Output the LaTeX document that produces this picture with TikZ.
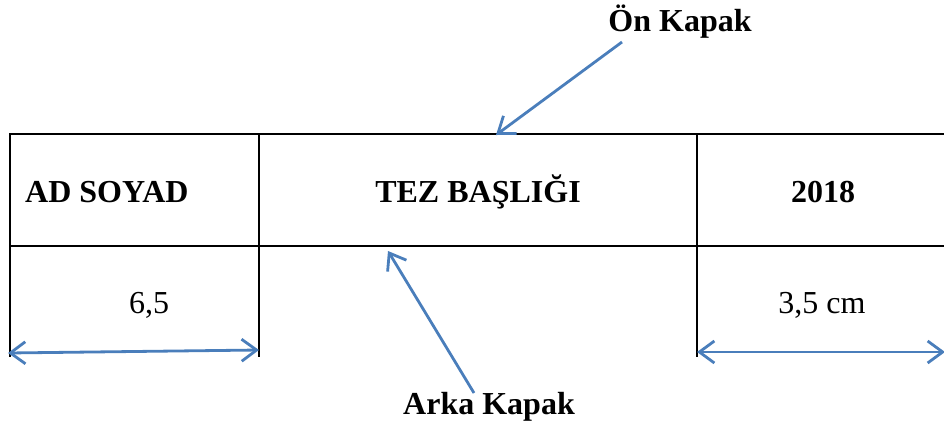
\documentclass[tikz,border=0pt]{standalone}
\usepackage{fontspec}
\setmainfont{Liberation Serif}
\usetikzlibrary{arrows.meta}
\definecolor{arrowblue}{HTML}{4A7EBB}
\tikzset{
  grid/.style={line width=2.7pt, black},
  pointer/.style={line width=2.8pt, arrowblue, -{Straight Barb[length=15pt,width=22pt,line width=2.8pt]}},
  dimline/.style={line width=2.8pt, arrowblue, {Straight Barb[length=15pt,width=22pt,line width=2.8pt]}-{Straight Barb[length=15pt,width=22pt,line width=2.8pt]}},
  boldlabel/.style={font=\fontsize{32}{38}\selectfont\bfseries, inner sep=0pt},
  plainlabel/.style={font=\fontsize{32}{38}\selectfont, inner sep=0pt}
}
\begin{document}
\begin{tikzpicture}[x=1pt,y=-1pt]
\useasboundingbox (0,0) rectangle (944,426);
% table lines
\coordinate (tl) at (10,134);
\coordinate (tr) at (944,134);
\coordinate (ml) at (10,246);
\coordinate (mr) at (944,246);
\draw[grid] (tl) -- (tr);
\draw[grid] (ml) -- (mr);
\draw[grid] (10,133) -- (10,357);
\draw[grid] (259,133) -- (259,357);
\draw[grid] (697,133) -- (697,357);
% texts
\node[boldlabel, anchor=west] (ad) at (25,192) {AD SOYAD};
\node[boldlabel] (tez) at (478,192) {TEZ BAŞLIĞI};
\node[boldlabel] (yil) at (823,192) {2018};
\node[plainlabel] (w1) at (149,305) {6,5};
\node[plainlabel] (w2) at (822,305) {3,5 cm};
\node[boldlabel] (on) at (680,22) {Ön Kapak};
\node[boldlabel] (arka) at (489,407) {Arka Kapak};
% arrows
\coordinate (onTail) at (622,42);
\coordinate (onTip) at (496,135);
\coordinate (arkaTail) at (474,393);
\coordinate (arkaTip) at (388,251);
\draw[pointer] (onTail) -- (onTip);
\draw[pointer] (arkaTail) -- (arkaTip);
\coordinate (d1a) at (8,353);
\coordinate (d1b) at (259,350);
\coordinate (d2a) at (697,352);
\coordinate (d2b) at (945,352);
\draw[dimline] (d1a) -- (d1b);
\draw[dimline] (d2a) -- (d2b);
\end{tikzpicture}
\end{document}
